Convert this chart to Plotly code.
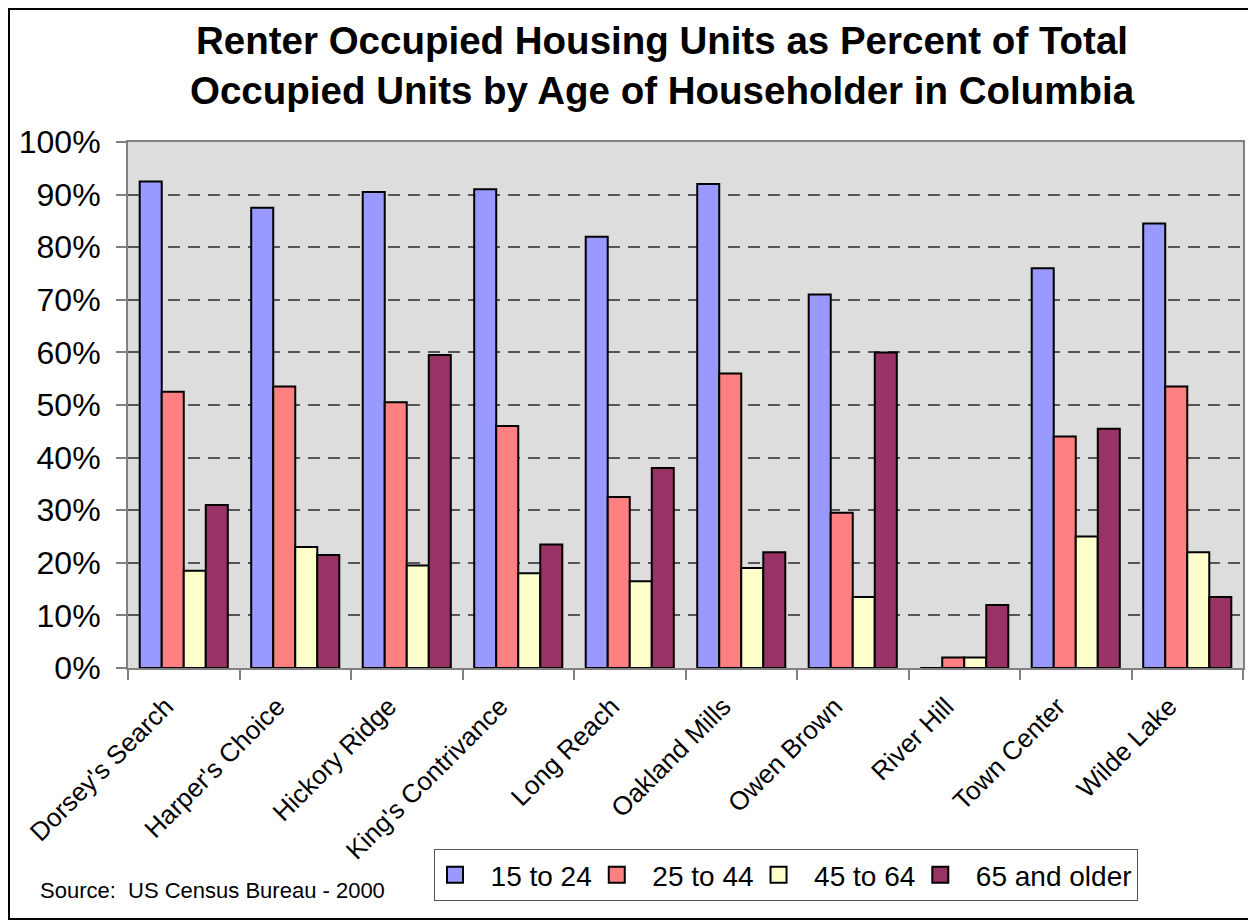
import plotly.graph_objects as go

villages = ["Dorsey's Search", "Harper's Choice", "Hickory Ridge", "King's Contrivance",
            "Long Reach", "Oakland Mills", "Owen Brown", "River Hill", "Town Center", "Wilde Lake"]
age_15_24 = [92.5, 87.5, 90.5, 91.0, 82.0, 92.0, 71.0, 0.0, 76.0, 84.5]
age_25_44 = [52.5, 53.5, 50.5, 46.0, 32.5, 56.0, 29.5, 2.0, 44.0, 53.5]
age_45_64 = [18.5, 23.0, 19.5, 18.0, 16.5, 19.0, 13.5, 2.0, 25.0, 22.0]
age_65_up = [31.0, 21.5, 59.5, 23.5, 38.0, 22.0, 60.0, 12.0, 45.5, 13.5]

series_names = ["15 to 24", "25 to 44", "45 to 64", "65 and older"]
series_vals = [age_15_24, age_25_44, age_45_64, age_65_up]
colors = ["#9999FF", "#FF8080", "#FFFFCC", "#993366"]

FONT = "Liberation Sans, Arial, sans-serif"
OFF = 8  # page body margin

fig = go.Figure()
for name, vals, col in zip(series_names, series_vals, colors):
    fig.add_trace(go.Bar(
        x=villages, y=vals, name=name, showlegend=False,
        marker=dict(color=col, line=dict(color="black", width=2)),
    ))
# legend entries with larger square swatches
for name, col in zip(series_names, colors):
    fig.add_trace(go.Scatter(
        x=[None], y=[None], name="\u00a0\u00a0" + name, mode="markers",
        marker=dict(symbol="square", size=16, color=col, line=dict(color="black", width=2)),
    ))

W, H = 1248, 912
L, R, T, B = 120, 13, 134, 252
pw, ph = W - L - R, H - T - B

def px_x(p):
    return (p - OFF - L) / pw

def px_y(p):
    return (H - B - (p - OFF)) / ph

fig.update_layout(
    width=W, height=H,
    margin=dict(l=L, r=R, t=T, b=B, autoexpand=False),
    paper_bgcolor="white",
    plot_bgcolor="#DDDDDD",
    barmode="group",
    bargap=0.21,
    bargroupgap=0,
    font=dict(family=FONT, color="black"),
    showlegend=True,
    legend=dict(
        orientation="h",
        x=px_x(434), xanchor="left",
        y=px_y(849), yanchor="top",
        font=dict(size=28, family=FONT, color="black"),
        bordercolor="#555555", borderwidth=1,
        bgcolor="white",
        traceorder="normal",
        itemsizing="trace",
    ),
)

fig.add_annotation(
    text="<b>Renter Occupied Housing Units as Percent of Total<br>Occupied Units by Age of Householder in Columbia</b>",
    xref="paper", yref="paper",
    x=px_x(662), xanchor="center",
    y=px_y(65), yanchor="middle",
    showarrow=False,
    font=dict(size=38.5, family=FONT, color="black"),
)

fig.update_yaxes(
    range=[0, 100],
    tickvals=[0, 10, 20, 30, 40, 50, 60, 70, 80, 90, 100],
    ticktext=[f"{v}%" for v in [0, 10, 20, 30, 40, 50, 60, 70, 80, 90, 100]],
    tickfont=dict(size=32, family=FONT, color="black"),
    ticks="outside", ticklen=10, tickcolor="#808080", tickwidth=2,
    ticklabelstandoff=9,
    showline=True, linecolor="#808080", linewidth=2, mirror=True,
    showgrid=True, gridcolor="#555555", gridwidth=1.5, griddash="12px,8px",
    zeroline=False,
)
fig.update_xaxes(
    tickfont=dict(size=26, family=FONT, color="black"),
    tickangle=-45,
    ticks="outside", ticklen=10, tickcolor="#808080", tickwidth=2,
    tickson="boundaries",
    ticklabelshift=-18,
    ticklabelstandoff=11,
    showline=True, linecolor="#808080", linewidth=2, mirror=True,
    showgrid=False,
)

fig.add_annotation(
    text="Source:  US Census Bureau - 2000",
    xref="paper", yref="paper",
    x=px_x(38), xanchor="left",
    y=px_y(890), yanchor="middle",
    showarrow=False,
    font=dict(size=22, family=FONT, color="black"),
)

fig.add_shape(
    type="rect", xref="paper", yref="paper",
    x0=px_x(9), x1=px_x(1255), y0=px_y(919), y1=px_y(9),
    line=dict(color="black", width=2), fillcolor="rgba(0,0,0,0)",
    layer="below",
)

fig.write_html("out.html")
